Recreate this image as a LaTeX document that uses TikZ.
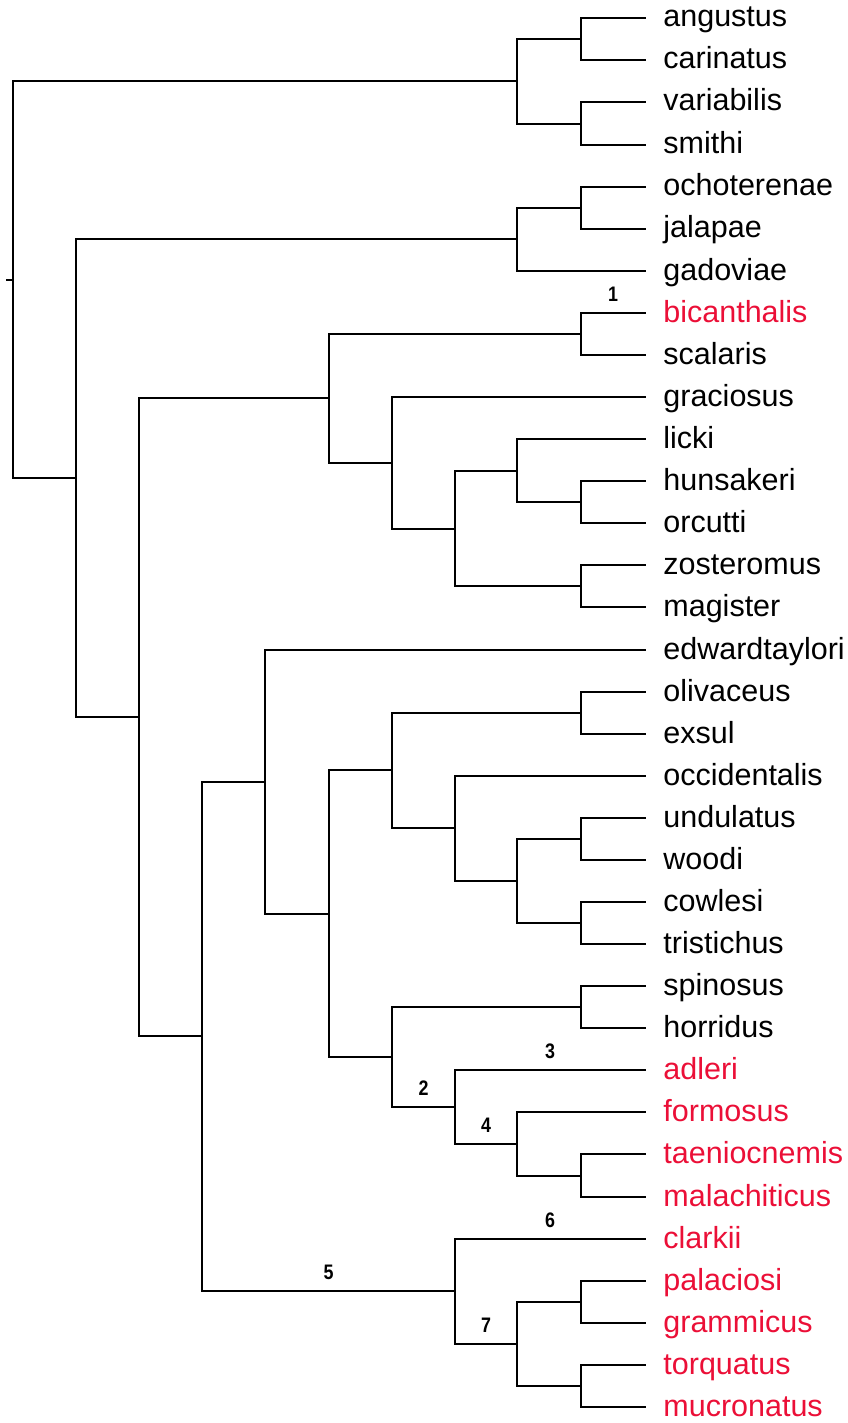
\documentclass[tikz,border=0pt]{standalone}
\usepackage{fontspec}
\setmainfont{Liberation Sans}
\newfontfamily\numfont[FakeStretch=0.85]{Liberation Sans}
\definecolor{hlred}{RGB}{235,15,55}
\newcommand\yy[1]{round(18.3+42.08*#1)}
\begin{document}
\begin{tikzpicture}[x=1pt,y=-1pt,line width=2.8pt,line cap=rect,
  leaf/.style={anchor=base west,inner sep=0pt,font=\fontsize{30.5}{36}\selectfont},
  num/.style={font=\numfont\bfseries\fontsize{21}{21}\selectfont,inner sep=0pt,above=11.5pt,line width=0pt}]
\useasboundingbox (0,0) rectangle (847,1423);
% leaves
\foreach \i/\nm/\col in {0/angustus/black,1/carinatus/black,2/variabilis/black,3/smithi/black,
  4/ochoterenae/black,5/jalapae/black,6/gadoviae/black,7/bicanthalis/hlred,8/scalaris/black,
  9/graciosus/black,10/licki/black,11/hunsakeri/black,12/orcutti/black,13/zosteromus/black,
  14/magister/black,15/edwardtaylori/black,16/olivaceus/black,17/exsul/black,18/occidentalis/black,
  19/undulatus/black,20/woodi/black,21/cowlesi/black,22/tristichus/black,23/spinosus/black,
  24/horridus/black,25/adleri/hlred,26/formosus/hlred,27/taeniocnemis/hlred,28/malachiticus/hlred,
  29/clarkii/hlred,30/palaciosi/hlred,31/grammicus/hlred,32/torquatus/hlred,33/mucronatus/hlred}{
  \coordinate (e\i) at (645,{\yy{\i}});
  \node[leaf,text=\col] (n\i) at (662,{\yy{\i}+9}) {\nm};
}
% internal nodes
\coordinate (A) at (581,{\yy{0.5}});
\coordinate (B) at (581,{\yy{2.5}});
\coordinate (C) at (517,{\yy{1.5}});
\coordinate (D) at (581,{\yy{4.5}});
\coordinate (E) at (517,{\yy{5.25}});
\coordinate (F) at (581,{\yy{7.5}});
\coordinate (G) at (581,{\yy{11.5}});
\coordinate (H) at (517,{\yy{10.75}});
\coordinate (I) at (581,{\yy{13.5}});
\coordinate (J) at (455,{\yy{12.125}});
\coordinate (K) at (392,{\yy{10.5625}});
\coordinate (L) at (329,{\yy{9.03125}});
\coordinate (M) at (581,{\yy{16.5}});
\coordinate (N) at (581,{\yy{19.5}});
\coordinate (O) at (581,{\yy{21.5}});
\coordinate (P) at (517,{\yy{20.5}});
\coordinate (Q) at (455,{\yy{19.25}});
\coordinate (R) at (392,{\yy{17.875}});
\coordinate (S) at (581,{\yy{23.5}});
\coordinate (T) at (581,{\yy{27.5}});
\coordinate (U) at (517,{\yy{26.75}});
\coordinate (V) at (455,{\yy{25.875}});
\coordinate (W) at (392,{\yy{24.6875}});
\coordinate (X) at (329,{\yy{21.28125}});
\coordinate (Y) at (265,{\yy{18.140625}});
\coordinate (Z1) at (581,{\yy{30.5}});
\coordinate (Z2) at (581,{\yy{32.5}});
\coordinate (Z3) at (517,{\yy{31.5}});
\coordinate (Z4) at (455,{\yy{30.25}});
\coordinate (Z5) at (202,{\yy{24.1953125}});
\coordinate (Z6) at (139,{\yy{16.61328125}});
\coordinate (Z7) at (76,{\yy{10.931640625}});
\coordinate (root) at (13,{\yy{6.2158203125}});
\coordinate (tick) at (7,{\yy{6.2158203125}});
% connectors
\draw (A) |- (e0); \draw (A) |- (e1);
\draw (B) |- (e2); \draw (B) |- (e3);
\draw (C) |- (A); \draw (C) |- (B);
\draw (D) |- (e4); \draw (D) |- (e5);
\draw (E) |- (D); \draw (E) |- (e6);
\draw (F) |- node[num,pos=0.75]{1} (e7); \draw (F) |- (e8);
\draw (G) |- (e11); \draw (G) |- (e12);
\draw (H) |- (e10); \draw (H) |- (G);
\draw (I) |- (e13); \draw (I) |- (e14);
\draw (J) |- (H); \draw (J) |- (I);
\draw (K) |- (e9); \draw (K) |- (J);
\draw (L) |- (F); \draw (L) |- (K);
\draw (M) |- (e16); \draw (M) |- (e17);
\draw (N) |- (e19); \draw (N) |- (e20);
\draw (O) |- (e21); \draw (O) |- (e22);
\draw (P) |- (N); \draw (P) |- (O);
\draw (Q) |- (e18); \draw (Q) |- (P);
\draw (R) |- (M); \draw (R) |- (Q);
\draw (S) |- (e23); \draw (S) |- (e24);
\draw (T) |- (e27); \draw (T) |- (e28);
\draw (U) |- (e26); \draw (U) |- (T);
\draw (V) |- node[num,pos=0.75]{3} (e25); \draw (V) |- node[num,pos=0.75]{4} (U);
\draw (W) |- (S); \draw (W) |- node[num,pos=0.75]{2} (V);
\draw (X) |- (R); \draw (X) |- (W);
\draw (Y) |- (e15); \draw (Y) |- (X);
\draw (Z1) |- (e30); \draw (Z1) |- (e31);
\draw (Z2) |- (e32); \draw (Z2) |- (e33);
\draw (Z3) |- (Z1); \draw (Z3) |- (Z2);
\draw (Z4) |- node[num,pos=0.75]{6} (e29); \draw (Z4) |- node[num,pos=0.75]{7} (Z3);
\draw (Z5) |- (Y); \draw (Z5) |- node[num,pos=0.75]{5} (Z4);
\draw (Z6) |- (L); \draw (Z6) |- (Z5);
\draw (Z7) |- (E); \draw (Z7) |- (Z6);
\draw (root) |- (C); \draw (root) |- (Z7);
\draw (root) -- (tick);
\end{tikzpicture}
\end{document}
